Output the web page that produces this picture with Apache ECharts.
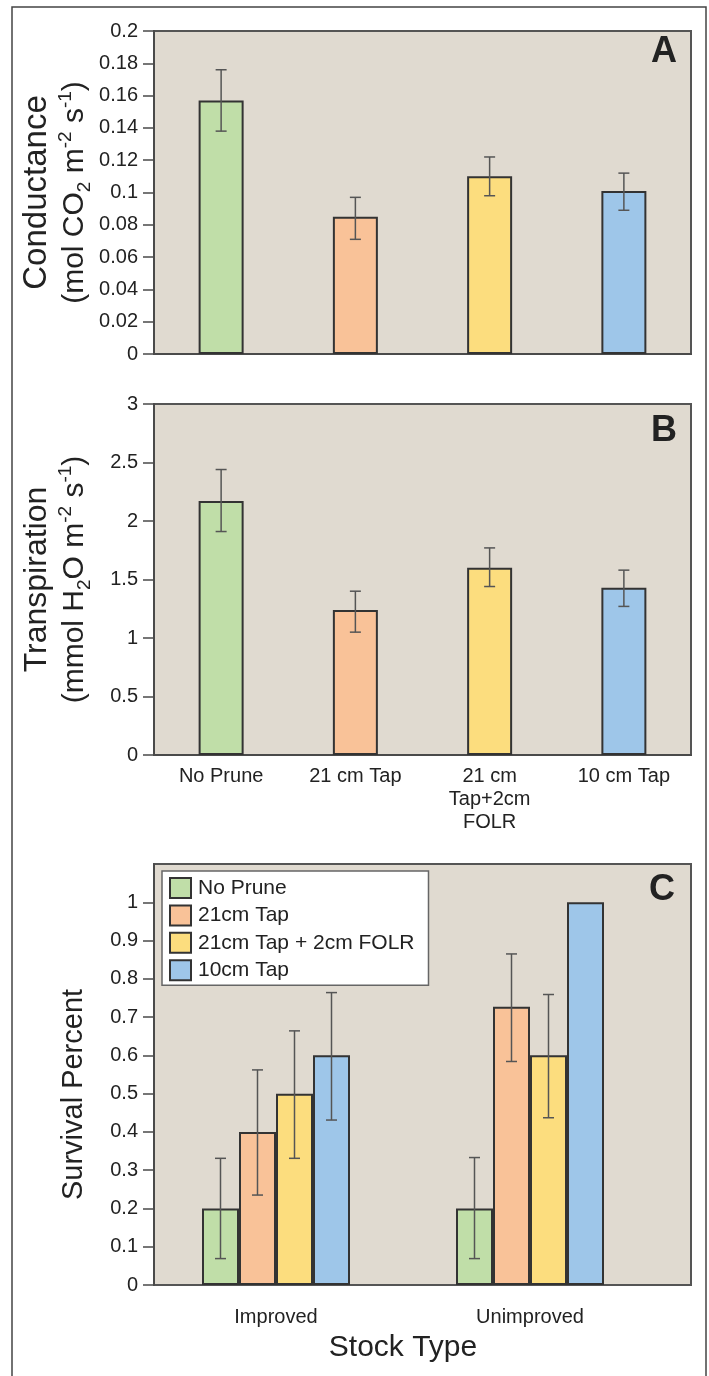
<!DOCTYPE html>
<html><head><meta charset="utf-8">
<script src="https://cdn.jsdelivr.net/npm/echarts@6/dist/echarts.min.js"></script>
<style>html,body{margin:0;padding:0;background:#fff}#c{width:709px;height:1376px}</style>
</head><body><div id="c"></div>
<script>
// ---- data ----
const treatments = ['No Prune', '21 cm Tap', '21 cm\nTap+2cm\nFOLR', '10 cm Tap'];
const conductance = [0.157, 0.085, 0.110, 0.101];
const conductanceHi = [0.176, 0.097, 0.122, 0.112];
const conductanceLo = [0.138, 0.071, 0.098, 0.089];
const transpiration = [2.17, 1.24, 1.60, 1.43];
const transpirationHi = [2.44, 1.40, 1.77, 1.58];
const transpirationLo = [1.91, 1.05, 1.44, 1.27];
const stockTypes = ['Improved', 'Unimproved'];
const survivalNames = ['No Prune', '21cm Tap', '21cm Tap + 2cm FOLR', '10cm Tap'];
const survNoPrune = [0.2, 0.2];
const survNoPruneHi = [0.331, 0.333];
const survNoPruneLo = [0.069, 0.069];
const surv21 = [0.4, 0.727];
const surv21Hi = [0.562, 0.865];
const surv21Lo = [0.235, 0.584];
const surv21F = [0.5, 0.6];
const surv21FHi = [0.664, 0.759];
const surv21FLo = [0.331, 0.437];
const surv10 = [0.6, 1.0];
const surv10Hi = [0.764, null];
const surv10Lo = [0.431, null];
const ticksA = [0, 0.02, 0.04, 0.06, 0.08, 0.1, 0.12, 0.14, 0.16, 0.18, 0.2];
const ticksB = [0, 0.5, 1, 1.5, 2, 2.5, 3];
const ticksC = [0, 0.1, 0.2, 0.3, 0.4, 0.5, 0.6, 0.7, 0.8, 0.9, 1];

// ---- styles ----
const colors = ['#c0dea8', '#f9c298', '#fcdd7e', '#9ec6e9'];
const FONT = "'Liberation Sans', Arial, Helvetica, sans-serif";
const TXT = '#222';
const AX = '#4a4a4a';
const ERR = '#555';
const BAR_BORDER = '#333';

const chart = echarts.init(document.getElementById('c'), null, {renderer: 'canvas'});

function errSeries(name, xi, hi, lo, offset) {
  const data = [];
  hi.forEach((h, i) => { if (h != null) data.push([i, h, lo[i]]); });
  return {
    type: 'custom', name: name + ' err', xAxisIndex: xi, yAxisIndex: xi, z: 10,
    encode: {x: 0, y: [1, 2]}, data: data, silent: true,
    renderItem: function (params, api) {
      const idx = api.value(0);
      const pHi = api.coord([idx, api.value(1)]);
      const pLo = api.coord([idx, api.value(2)]);
      const cx = pHi[0] + offset, w = 5.5;
      const st = {stroke: ERR, lineWidth: 1.5};
      return {type: 'group', children: [
        {type: 'line', shape: {x1: cx, y1: pHi[1], x2: cx, y2: pLo[1]}, style: st},
        {type: 'line', shape: {x1: cx - w, y1: pHi[1], x2: cx + w, y2: pHi[1]}, style: st},
        {type: 'line', shape: {x1: cx - w, y1: pLo[1], x2: cx + w, y2: pLo[1]}, style: st}
      ]};
    }
  };
}

function valueAxis(gi, max, interval, ticks, name, rich, nameGap, namePad) {
  return {
    type: 'value', gridIndex: gi, min: 0, max: max, interval: interval,
    splitLine: {show: false},
    axisLine: {show: true, lineStyle: {color: AX, width: 2}},
    axisTick: {show: true, inside: false, length: 11, lineStyle: {color: AX, width: 1.5}, customValues: ticks},
    axisLabel: {show: true, margin: 16, fontSize: 20, color: TXT, fontFamily: FONT, customValues: ticks},
    name: name, nameLocation: 'middle', nameRotate: 90, nameGap: nameGap, nameMoveOverlap: false,
    nameTextStyle: {color: TXT, fontFamily: FONT, rich: rich, padding: namePad || 0}
  };
}

function richSet(f1, f2) {
  return {
    a: {fontSize: f1, lineHeight: 38, color: TXT, fontFamily: FONT},
    b: {fontSize: f2, lineHeight: 38, color: TXT, fontFamily: FONT},
    s: {fontSize: 19, verticalAlign: 'bottom', color: TXT, fontFamily: FONT},
    p: {fontSize: 19, verticalAlign: 'top', color: TXT, fontFamily: FONT}
  };
}

const gridBase = {show: true, backgroundColor: '#e0dad0', borderColor: '#555', borderWidth: 2, outerBoundsMode: 'none', containLabel: false};

const survSets = [
  [survNoPrune, survNoPruneHi, survNoPruneLo],
  [surv21, surv21Hi, surv21Lo],
  [surv21F, surv21FHi, surv21FLo],
  [surv10, surv10Hi, surv10Lo]
];
const barWC = 37;

const series = [
  {type: 'bar', name: 'Conductance', xAxisIndex: 0, yAxisIndex: 0, data: conductance, barWidth: 45,
   itemStyle: {color: p => colors[p.dataIndex], borderColor: BAR_BORDER, borderWidth: 2}, silent: true},
  errSeries('Conductance', 0, conductanceHi, conductanceLo, 0),
  {type: 'bar', name: 'Transpiration', xAxisIndex: 1, yAxisIndex: 1, data: transpiration, barWidth: 45,
   itemStyle: {color: p => colors[p.dataIndex], borderColor: BAR_BORDER, borderWidth: 2}, silent: true},
  errSeries('Transpiration', 1, transpirationHi, transpirationLo, 0)
];
survSets.forEach((s, k) => {
  series.push({type: 'bar', name: survivalNames[k], xAxisIndex: 3, yAxisIndex: 3, data: s[0],
    barWidth: barWC, barGap: '0%', silent: true,
    itemStyle: {color: colors[k], borderColor: BAR_BORDER, borderWidth: 2}});
});
survSets.forEach((s, k) => {
  series.push(errSeries(survivalNames[k], 3, s[1], s[2], (k - 1.5) * barWC));
});

const option = {
  animation: false,
  backgroundColor: '#fff',
  textStyle: {fontFamily: FONT},
  grid: [
    Object.assign({left: 154, top: 31, width: 537, height: 323}, gridBase),
    Object.assign({left: 154, top: 404, width: 537, height: 351}, gridBase),
    Object.assign({left: 154, top: 864, width: 537, height: 421}, gridBase),
    {show: false, left: 149, top: 864, width: 508, height: 421, outerBoundsMode: 'none', containLabel: false}
  ],
  xAxis: [
    {type: 'category', gridIndex: 0, data: treatments, axisTick: {show: false}, axisLabel: {show: false},
     axisLine: {show: true, lineStyle: {color: AX, width: 2}}},
    {type: 'category', gridIndex: 1, data: treatments, axisTick: {show: false},
     axisLine: {show: true, lineStyle: {color: AX, width: 2}},
     axisLabel: {show: true, interval: 0, margin: 10, fontSize: 20, lineHeight: 23, color: TXT, fontFamily: FONT, align: 'center'}},
    {type: 'category', gridIndex: 2, data: [''], show: false},
    {type: 'category', gridIndex: 3, data: stockTypes, axisTick: {show: false}, axisLine: {show: false},
     axisLabel: {show: true, margin: 22, fontSize: 20, color: TXT, fontFamily: FONT},
     name: 'Stock Type', nameLocation: 'middle', nameGap: 48, nameMoveOverlap: false,
     nameTextStyle: {fontSize: 30, lineHeight: 30, color: TXT, fontFamily: FONT}}
  ],
  yAxis: [
    valueAxis(0, 0.2, 0.02, ticksA,
      '{a|Conductance}\n{b|(mol CO}{s|2}{b| m}{p|-2}{b| s}{p|-1}{b|)}', richSet(33, 30), 60),
    valueAxis(1, 3, 0.5, ticksB,
      '{a|Transpiration}\n{b|(mmol H}{s|2}{b|O m}{p|-2}{b| s}{p|-1}{b|)}', richSet(32, 30), 60),
    valueAxis(2, 1.1, 0.1, ticksC, '{a|Survival Percent}',
      {a: {fontSize: 29, lineHeight: 34, color: TXT, fontFamily: FONT}}, 63, [0, 40, 0, 0]),
    {type: 'value', gridIndex: 3, min: 0, max: 1.1, show: false}
  ],
  legend: {
    data: survivalNames, orient: 'vertical', left: 162, top: 871,
    itemWidth: 21, itemHeight: 20, itemGap: 5.4, icon: 'rect',
    padding: [6, 14, 4, 7], backgroundColor: '#fff', borderColor: '#666', borderWidth: 1.5,
    selectedMode: false,
    textStyle: {fontSize: 21, color: TXT, fontFamily: FONT, padding: [0, 0, 0, 2]}
  },
  graphic: [
    {type: 'rect', shape: {x: 12, y: 7, width: 694, height: 1400}, style: {fill: 'none', stroke: '#444', lineWidth: 1.5}, z: 100, silent: true},
    {type: 'text', x: 677, y: 52, style: {text: 'A', font: 'bold 36px ' + FONT, fill: '#222', align: 'right', verticalAlign: 'middle'}, z: 100},
    {type: 'text', x: 677, y: 431, style: {text: 'B', font: 'bold 36px ' + FONT, fill: '#222', align: 'right', verticalAlign: 'middle'}, z: 100},
    {type: 'text', x: 675, y: 890, style: {text: 'C', font: 'bold 36px ' + FONT, fill: '#222', align: 'right', verticalAlign: 'middle'}, z: 100}
  ],
  series: series
};
chart.setOption(option);
</script>
</body></html>
